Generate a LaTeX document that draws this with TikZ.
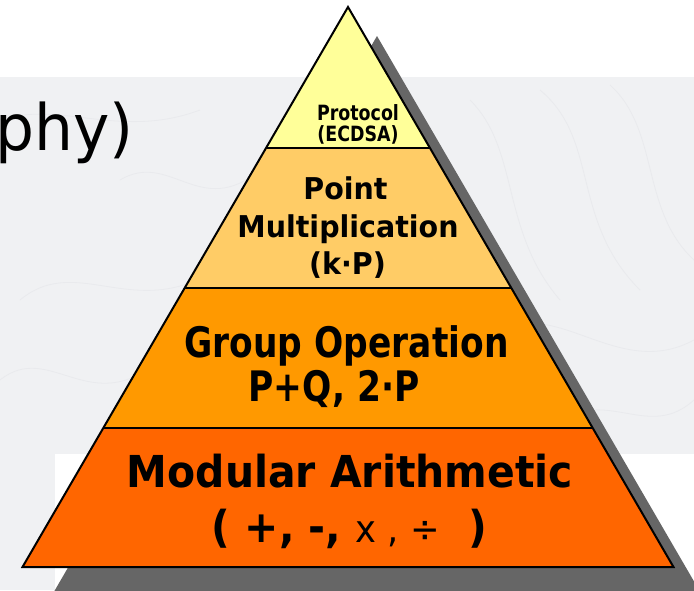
\documentclass[tikz,border=0pt]{standalone}
\usepackage{fontspec}
\setmainfont{DejaVu Sans}
\usepackage{graphicx}
\definecolor{lyrA}{HTML}{FFFF99}
\definecolor{lyrB}{HTML}{FFCC66}
\definecolor{lyrC}{HTML}{FF9900}
\definecolor{lyrD}{HTML}{FF6600}
\definecolor{shadecol}{HTML}{666666}
\definecolor{bgtex}{RGB}{240,241,243}
\definecolor{bgline}{RGB}{233,234,237}
\newcommand\ptxt[3]{\scalebox{#2}[1]{\fontsize{#1}{#1}\selectfont\bfseries #3}}
\newcommand\rtxt[3]{\scalebox{#2}[1]{\fontsize{#1}{#1}\selectfont #3}}
\begin{document}
\begin{tikzpicture}[x=1pt,y=-1pt,
  lbl/.style={anchor=base,inner sep=0pt,text=black},
  layeredge/.style={line width=2pt,black,line join=miter}]
\useasboundingbox (0,0) rectangle (694,590);
\clip (0,0) rectangle (694,590);
% background
\fill[white] (0,0) rectangle (694,590);
\fill[bgtex] (0,77) rectangle (694,590);
\begin{scope}[bgline, line width=0.8pt]
  \draw (0,120) .. controls (60,100) and (120,140) .. (200,110);
  \draw (20,300) .. controls (80,250) and (140,330) .. (230,260);
  \draw (0,380) .. controls (50,340) and (90,420) .. (160,360);
  \draw (470,100) .. controls (520,150) and (500,230) .. (560,300);
  \draw (540,90) .. controls (600,140) and (570,220) .. (640,290);
  \draw (610,85) .. controls (660,130) and (640,210) .. (694,260);
  \draw (500,330) .. controls (560,300) and (620,380) .. (694,340);
  \draw (560,420) .. controls (610,390) and (650,440) .. (694,400);
  \draw (120,180) .. controls (170,150) and (200,220) .. (260,170);
\end{scope}
\fill[white] (55,454) rectangle (694,590);
% cut-off title text
\node[anchor=base east,inner sep=0pt] (title) at (134,150) {\rtxt{64}{0.96}{phy)}};
% pyramid corners
\coordinate (apex) at (348,7);
\coordinate (lA) at (266,148);   \coordinate (rA) at (430,148);
\coordinate (lB) at (184.7,288); \coordinate (rB) at (511.3,288);
\coordinate (lC) at (103.3,428); \coordinate (rC) at (592.7,428);
\coordinate (lD) at (22.5,567);  \coordinate (rD) at (673.5,567);
% shadow
\fill[shadecol] ([shift={(29,29)}]apex) -- ([shift={(29,29)}]rD) -- ([shift={(29,29)}]lD) -- cycle;
% layers
\fill[lyrA] (apex) -- (rA) -- (lA) -- cycle;
\fill[lyrB] (lA) -- (rA) -- (rB) -- (lB) -- cycle;
\fill[lyrC] (lB) -- (rB) -- (rC) -- (lC) -- cycle;
\fill[lyrD] (lC) -- (rC) -- (rD) -- (lD) -- cycle;
\draw[layeredge] (lA) -- (rA);
\draw[layeredge] (lB) -- (rB);
\draw[layeredge] (lC) -- (rC);
\draw[layeredge] (apex) -- (rD) -- (lD) -- cycle;
% texts
\node[lbl] (protoA) at (358,120) {\ptxt{21}{0.83}{Protocol}};
\node[lbl] (protoB) at (358,141) {\ptxt{21}{0.83}{(ECDSA)}};
\node[lbl] (pointA) at (345.5,199) {\ptxt{30}{0.95}{Point}};
\node[lbl] (pointB) at (348,237) {\ptxt{30}{0.95}{Multiplication}};
\node[lbl] (pointC) at (347.5,274) {\ptxt{30}{0.95}{(k·P)}};
\node[lbl] (groupA) at (346.5,357) {\ptxt{42}{0.82}{Group Operation}};
\node[lbl] (groupB) at (334,401) {\ptxt{42}{0.82}{P+Q, 2·P}};
\node[lbl] (modA) at (350,487) {\ptxt{44}{0.93}{Modular Arithmetic}};
\node[lbl] (modB) at (349.5,542) {\ptxt{44}{0.93}{( +, -, }\rtxt{38}{0.93}{x , ÷}\ptxt{44}{0.93}{ \ )}};
\end{tikzpicture}
\end{document}
